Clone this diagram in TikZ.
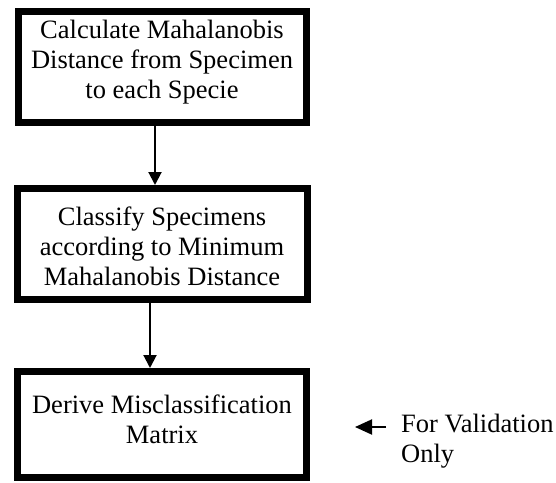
\documentclass[tikz,border=0pt]{standalone}
\usepackage{fontspec}
\setmainfont{Liberation Serif}
\usetikzlibrary{arrows.meta}
\begin{document}
\begin{tikzpicture}[x=1pt,y=-1pt,
  stepbox/.style={draw, line width=7pt, inner sep=0pt},
  steptext/.style={align=center, inner sep=0pt, font=\fontsize{26.5}{30}\selectfont},
  notetext/.style={align=left, inner sep=0pt, font=\fontsize{26.5}{30}\selectfont},
  flow/.style={line width=2pt, -{Triangle[length=13pt,width=13pt]}},
  sideflow/.style={line width=2pt, -{Triangle[length=17pt,width=15pt]}}]
\useasboundingbox[fill=white] (0,0) rectangle (556,482);

% the three process boxes
\node[stepbox, minimum width=288pt, minimum height=111pt] (b1) at (162.5,67) {};
\node[stepbox, minimum width=290pt, minimum height=111pt] (b2) at (162.5,244) {};
\node[stepbox, minimum width=289pt, minimum height=106pt] (b3) at (162,424.5) {};

% their labels
\node[steptext] (t1) at (162,62) {Calculate Mahalanobis\\Distance from Specimen\\to each Specie};
\node[steptext] (t2) at (162,246) {Classify Specimens\\according to Minimum\\Mahalanobis Distance};
\node[steptext] (t3) at (162,419) {Derive Misclassification\\Matrix};

% side note pointing at the last box
\node[notetext, anchor=west] (note) at (401,441) {For Validation\\Only};
\coordinate (notetail) at (386,427);
\coordinate (notetip) at (355,427);

% connectors
\coordinate (a1s) at (155,122);
\coordinate (a1e) at (155,185);
\coordinate (a2s) at (150,300);
\coordinate (a2e) at (150,368);
\draw[flow] (a1s) -- (a1e);
\draw[flow] (a2s) -- (a2e);
\draw[sideflow] (notetail) -- (notetip);
\end{tikzpicture}
\end{document}
